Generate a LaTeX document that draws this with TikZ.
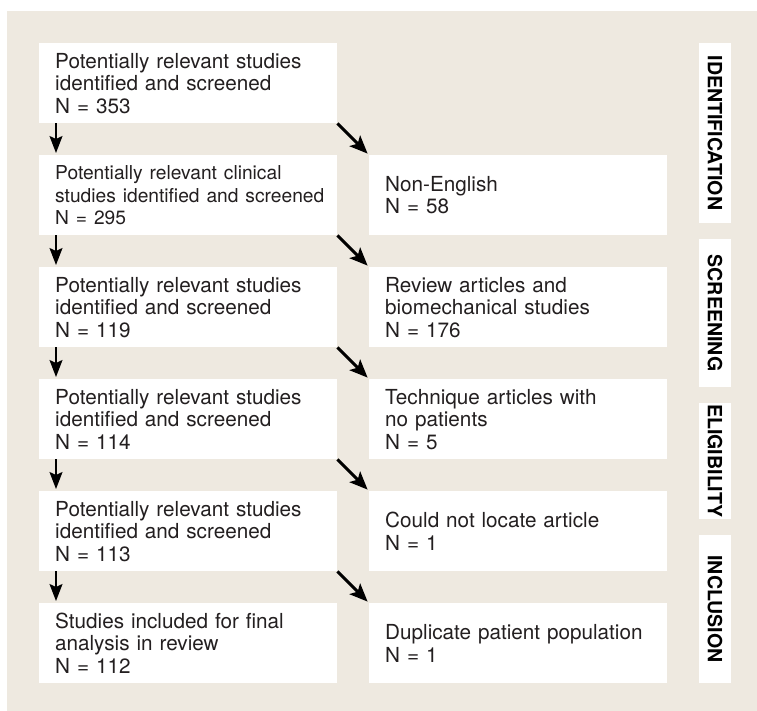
\documentclass[tikz,border=0pt]{standalone}
\usepackage{fontspec}
\setmainfont{TeX Gyre Heros}
\usetikzlibrary{arrows.meta,positioning}
\definecolor{paper}{RGB}{238,233,224}
\definecolor{ink}{RGB}{35,31,32}
\newcommand{\smallstage}{\fontsize{19.2}{22.5}\selectfont}
\tikzset{
  stage/.style={fill=white,anchor=north west,minimum width=298pt,minimum height=80pt,text width=266pt,inner xsep=16pt,inner ysep=0pt,align=left,text=ink,font=\fontsize{20.7}{22.5}\selectfont},
  phase/.style={fill=white,rotate=-90,minimum height=32pt,inner sep=0pt,text=black,font=\bfseries\fontsize{19.6}{20}\selectfont},
  down/.style={line width=1.6pt,-{Stealth[length=17pt,width=13pt,inset=3pt]},shorten >=2pt},
  side/.style={line width=3pt,-{Stealth[length=18pt,width=15pt,inset=4pt]},shorten >=2pt}
}
\begin{document}
\begin{tikzpicture}[x=1pt,y=-1pt]
\useasboundingbox (0,0) rectangle (757,711);
\fill[paper] (7,11) rectangle (757,711);
% left column
\foreach \t [count=\n] in {{Potentially relevant studies\\identified and screened\\N = 353},
                            {\smallstage Potentially relevant clinical\\\mbox{studies identified and screened}\\N = 295},
                            {Potentially relevant studies\\identified and screened\\N = 119},
                            {Potentially relevant studies\\identified and screened\\N = 114},
                            {Potentially relevant studies\\identified and screened\\N = 113},
                            {Studies included for final\\analysis in review\\N = 112}}
  \node[stage] (L\n) at (39,{43+(\n-1)*112}) {\t};
% excluded records
\foreach \t [count=\n from 2] in {{Non-English\\N = 58},
                                   {Review articles and\\biomechanical studies\\N = 176},
                                   {Technique articles with\\no patients\\N = 5},
                                   {Could not locate article\\N = 1},
                                   {Duplicate patient population\\N = 1}}
  \node[stage] (R\n) at (369,{155+(\n-2)*112}) {\t};
\foreach \n [count=\m from 2] in {1,...,5} {
  \draw[down] ([xshift=17pt]L\n.south west) -- ([xshift=17pt]L\m.north west);
  \draw[side] (L\n.south east) -- (R\m.north west);
}
% phases
\foreach \t/\y/\h [count=\n] in {IDENTIFICATION/133/180,SCREENING/313/148,ELIGIBILITY/461/116,INCLUSION/609/148}
  \node[phase,minimum width=\h] (P\n) at (715,\y) {\t};
\end{tikzpicture}
\end{document}
